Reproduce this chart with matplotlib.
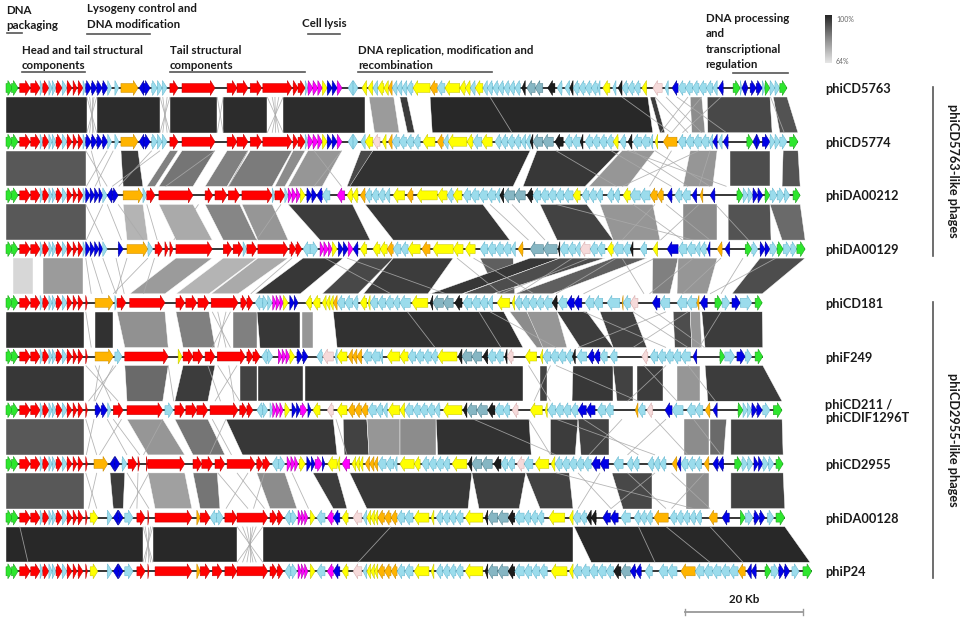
import re
import numpy as np
import matplotlib
matplotlib.use("Agg")
import matplotlib.pyplot as plt
from matplotlib.patches import Polygon
from matplotlib.colors import LinearSegmentedColormap, Normalize

plt.rcParams['font.family'] = ['Lato', 'DejaVu Sans']

# ---------------------------------------------------------------- data
GENOMES = ["phiCD5763", "phiCD5774", "phiDA00212", "phiDA00129", "phiCD181",
           "phiF249", "phiCD211 /\nphiCDIF1296T", "phiCD2955", "phiDA00128", "phiP24"]
GROUPS = [("phiCD5763-like phages", 0, 3), ("phiCD2955-like phages", 4, 9)]
ID_RANGE = (64, 100)
SCALE_KB = 20

# gene tokens: start-end, colour class, strand (positions on the reading grid)
LEFT_CORE = ("0-1.2G+ 1.0-2.2G+ 2.5-4.4R+ 4.5-6.2R+ 6.2-6.7c+ 6.7-7.8R+ 7.8-8.4c+ 8.4-9.1c+ "
             "9.1-10.2R+ 10.2-11.1c+ 11.1-12.0R+ 12.2-12.9R+ 13.1-14.0R+ ")
LEFT_G1 = LEFT_CORE + "14.0-14.5c+ "
LEFT_G2 = LEFT_CORE + "14.5-14.8R+ "

STRUCT_A = ("14.5-15.5B+ 15.5-16.5B+ 16.5-17.5B+ 17.5-18.5B+ 18.5-19.2c+ 19.8-20.5c+ 20.9-24.0O+ "
            "24.2-25.1B- 25.1-26.2B+ 26.5-27.5c+ 27.5-28.4c+ 28.4-29.3c+ 29.8-31.3R+ 32.0-38.0R+ "
            "40.2-42.0R+ 42.0-44.0R+ 44.4-46.5R+ 46.7-52.0R+ 52.2-53.1R+ 53.1-54.4R+ 54.4-54.9c+ "
            "54.9-55.8M+ 55.8-56.7M+ 56.7-57.5M+ 57.5-58.4Y+ 58.4-59.3B+ 59.3-60.2B+ 60.2-61.1M+ "
            "62.2-63.1c- 63.1-64.0c+ ")

REP_1 = ("64.7-65.6Y- 65.8-66.7Y- 66.7-67.6c- 67.6-68.7Y- 68.7-69.5Y- 69.5-70.2O- 70.2-71.1c- "
         "71.1-72.0c- 72.0-72.9c- 72.9-74.0c- 74.0-77.1Y- 77.1-78.4O- 78.4-79.8c- 79.8-82.5Y- "
         "82.5-83.5Y- 83.5-84.4Y- 84.4-85.3c- 85.3-86.7Y- 86.7-87.5c- 87.5-88.5c- 88.5-89.5c- "
         "89.5-90.5c- 90.5-91.5c- 91.5-92.5c- 92.5-93.5c- 93.8-94.4K- 94.7-96.2T- 96.2-97.6T- "
         "98.5-99.8K- 100.2-101.1c- 101.6-102.5c- 102.5-103.1K- 103.1-104.2c- 104.2-105.3c- "
         "105.3-106.4c- 106.4-107.5c- 107.5-108.0c- 108.5-109.8Y- 110.3-110.9c- 111.3-112.0K- "
         "112.0-113.1c- 113.1-114.2c- 114.2-115.3c- 115.6-116.5Y- 117.6-119.3P- 119.8-120.4c- "
         "121.1-122.2B- 122.2-123.5c- 123.5-124.8c- 124.8-126.0c- 126.0-127.3c- 127.3-128.5c- "
         "128.5-129.3c- 129.5-130.4B- 132.2-133.5G+ 133.5-133.8c+ 133.8-134.4B- 134.4-134.9B+ "
         "135.3-136.4B+ 136.4-137.5B+ 137.5-138.0c+ 138.0-138.9G+ 138.9-139.8c+ 139.8-140.7c+ "
         "140.7-142.0G+")

REP_2 = ("64.5-65.3c- 65.3-66.7Y- 66.7-68.0P- 68.4-69.1Y- 69.5-70.2O- 70.2-71.5c- 71.5-72.8c- "
         "72.8-74.1c- 74.1-75.3c- 75.8-78.0Y- 78.4-79.5O- 79.5-80.4c- 80.4-83.8Y- 83.8-84.9Y- "
         "84.9-86.5c- 86.5-88.4Y- 88.9-90.0c- 90.0-91.2c- 91.2-92.4c- 92.4-93.6c- 93.6-94.5c- "
         "94.5-95.3c- 95.3-95.8K- 95.8-97.6T- 97.6-99.5T- 99.8-101.3K- 101.6-102.9c- 102.9-104.4c- "
         "104.4-104.9K- 105.3-106.6c- 106.6-107.9c- 107.9-109.2c- 109.2-110.4c- 110.4-111.3Y- "
         "111.6-112.7c- 113.1-113.8K- 114.0-115.5c- 115.5-117.0c- 117.0-117.6c- 118.0-118.5Y- "
         "119.5-122.0O- 122.2-123.6c- 123.6-125.0c- 125.0-126.4c- 126.4-127.8c- 127.8-128.5c- "
         "128.5-129.3B- 129.5-130.2c- 130.4-131.3B- 134.7-135.8G+ 135.8-136.5B- 136.5-137.1B+ "
         "137.5-138.9B+ 138.9-139.8c+ 139.8-140.7c+ 140.7-142.0c+ 142.5-144.0G+")

GENES_3 = ("14.5-15.3B+ 15.3-16.1B+ 16.1-16.9B+ 16.9-17.6B+ 17.6-18.4c+ 18.4-19.3B- 19.3-20.4B+ "
           "21.3-24.9O+ 24.9-25.6c+ 25.6-27.1R+ 27.8-34.0R+ 36.2-37.6R+ 38.0-40.2R+ 40.4-42.5R+ "
           "42.9-48.4R+ 48.4-48.9c+ 48.9-50.7R+ 50.7-51.3c+ 51.3-52.0M+ 52.0-52.8M+ 52.8-53.5M+ "
           "53.5-54.4Y+ 54.7-55.6B+ 55.6-56.5B+ 56.5-57.5B- 57.5-58.9c- 60.2-61.6M- 62.0-63.0Y- "
           "63.0-64.0Y- 64.4-65.3O- 65.3-66.5c- 66.5-67.7c- 67.7-68.9c- 68.9-69.8c- 70.4-72.5Y- "
           "72.9-74.0O- 74.7-78.4Y- 78.5-80.2Y- 80.2-81.3c- 81.3-82.9Y- 83.1-84.5c- 84.5-86.0c- "
           "86.0-87.5c- 87.5-89.0c- 89.0-89.8c- 89.8-90.5K- 90.5-92.5T- 92.5-94.4T- 94.7-95.8K- "
           "95.8-97.2c- 97.2-98.6c- 98.6-100.0c- 100.0-101.4c- 101.4-103.1c- 103.1-104.4Y- "
           "104.7-106.0c- 106.0-107.3c- 107.3-108.5c- 109.3-110.5c- 110.5-111.6c- 112.2-113.5Y- "
           "113.5-115.3c- 115.3-117.1c- 117.1-118.4O- 118.4-119.5O- 120.2-121.1B- 121.6-122.9c- "
           "122.9-124.4c- 124.7-125.6B- 126.2-126.7O- 128.0-128.9B- 132.9-134.0G+ 134.0-134.9c+ "
           "134.9-135.8c+ 135.8-136.7B+ 136.7-137.6B+ 138.0-138.9G+ 138.9-140.2c+ 140.2-141.5c+ "
           "141.5-142.5c+ 143.1-144.4G+")

GENES_4 = ("14.5-15.3B+ 15.3-16.1B+ 16.1-16.9B+ 16.9-17.6B+ 17.6-18.4c+ 20.4-21.3B+ 22.0-25.8O+ "
           "25.8-26.7c+ 27.1-28.5R+ 28.9-29.5R+ 29.8-30.4R+ 30.9-37.5R+ 39.5-41.1R+ 41.3-43.1R+ "
           "43.1-43.8c+ 43.8-45.6R+ 45.8-51.3R+ 51.6-52.7R+ 52.7-53.8R+ 54.0-55.3c- 55.3-56.7c+ "
           "57.1-57.8M+ 57.8-58.6M+ 58.6-59.3M+ 59.3-60.2Y+ 60.4-61.3B+ 61.3-62.2B+ 62.2-63.1M+ "
           "63.1-64.0B- 64.4-65.6Y- 66.7-68.0Y- 68.0-69.3Y- 69.3-70.4O- 70.4-71.8c- 71.8-73.1c- "
           "73.1-75.3Y- 75.6-77.1O- 77.6-81.3Y- 81.3-83.1Y- 83.5-85.3Y- 86.2-87.6c- 87.6-89.0c- "
           "89.0-90.4c- 90.4-91.8c- 91.8-92.6c- 93.1-94.0O- 95.3-97.7T- 97.7-100.2T- 100.4-100.7K- "
           "100.7-102.2c- 102.2-103.5c- 103.5-104.4c- 104.4-106.2P- 106.2-107.5c- 107.5-108.9c- "
           "109.3-110.4Y- 110.4-112.2c- 112.2-113.5c- 113.5-114.0K- 115.3-116.5c- 117.6-118.5Y- "
           "120.2-122.2B- 122.2-123.8c- 123.8-125.3c- 125.3-126.2c- 126.2-127.3c- 127.5-128.0B- "
           "129.3-130.2O- 130.7-131.6B- 134.4-135.6G+ 135.6-136.7c+ 137.1-138.0B+ 138.0-138.9B+ "
           "138.9-140.2c+ 140.2-141.3G+ 141.3-142.7c+ 142.7-143.8c+ 143.8-145.3G+")

GENES_5 = ("16.2-19.5O+ 19.8-20.2c+ 20.2-21.8R+ 22.5-28.9R+ 30.9-32.5R+ 32.7-34.7R+ 34.9-36.9R+ "
           "37.3-42.2R+ 42.7-43.8R+ 43.8-44.9R+ 45.3-46.7c- 46.7-47.6c+ 47.6-48.4c+ 48.5-49.1M+ "
           "49.1-49.8M+ 49.8-50.4M+ 50.4-51.3Y+ 51.6-52.4B+ 52.4-53.1B+ 54.5-55.6Y- 55.8-57.1Y- "
           "57.5-58.2Y- 58.2-58.9Y- 58.9-59.5Y- 59.5-60.2O- 60.2-61.6c- 61.6-63.0c- 63.0-64.0c- "
           "64.4-65.6Y- 65.8-66.2Y- 66.2-67.6c- 67.6-69.0c- 69.0-70.4c- 70.4-71.6c- 71.6-73.5c- "
           "73.8-76.7Y- 77.1-77.6K- 77.6-79.5T- 79.5-81.3T- 81.6-82.9K- 83.1-84.7c- 84.7-86.2c- "
           "86.2-87.6c- 87.6-88.5c- 89.3-91.6Y- 92.0-92.5Y- 92.5-93.8c- 93.8-95.1c- 95.1-96.4c- "
           "96.4-97.7c- 97.7-99.3c- 99.3-100.2K- 100.4-102.0c- 102.0-103.3B- 103.3-104.7B- "
           "105.3-106.9c- 106.9-108.5c- 109.3-111.6c- 112.0-112.2O- 112.2-113.5c- 113.5-114.9P- "
           "117.5-118.9B- 118.9-120.7c- 122.0-123.8c- 123.8-125.6c- 125.6-126.0O- 126.2-127.5B- "
           "128.9-130.2G+ 130.2-131.6c+ 132.0-133.5B+ 133.5-135.6c+ 136.2-137.5G+")

GENES_6 = ("16.2-19.5O+ 19.8-21.1c+ 21.6-29.5R+ 31.3-32.0Y+ 32.2-34.0R+ 34.0-35.8R+ 36.2-38.0R+ "
           "38.4-43.5R+ 43.8-44.9R+ 44.9-46.2R+ 46.5-47.5c- 47.5-48.5c+ 49.5-50.2M+ 50.2-50.9M+ "
           "50.9-51.6M+ 51.6-52.5Y+ 52.9-53.9B+ 53.9-54.9B+ 56.5-57.5c- 57.6-59.5P- 59.8-60.2c- "
           "60.2-62.0Y- 62.2-63.0O- 63.0-63.8O- 63.8-64.7O- 64.9-66.4c- 66.4-68.0c- 68.0-68.5c- "
           "69.3-71.6Y- 71.6-73.1Y- 73.1-74.5c- 74.5-75.9c- 75.9-77.3c- 77.3-78.4c- 78.5-82.0Y- "
           "82.2-82.9K- 82.9-84.7T- 84.7-86.5T- 86.7-87.6K- 87.6-89.0c- 89.0-90.4c- 90.7-91.1K- "
           "91.1-92.2P- 94.4-96.5Y- 97.1-97.6Y- 97.6-99.0c- 99.0-100.4c- 100.4-101.8c- 101.8-103.0c- "
           "103.0-103.5K- 103.8-105.6c- 105.8-106.9B- 106.9-108.0B- 108.0-109.3c- 109.8-111.1c- "
           "115.6-116.7P- 117.1-118.5c- 118.5-119.9c- 119.9-121.3c- 121.3-122.7c- 122.7-124.4c- "
           "124.9-125.6B- 129.8-130.7G+ 130.7-132.5c+ 132.9-134.4B+ 134.4-135.6c+ 136.2-137.6G+")

GENES_7 = ("16.2-17.3B+ 17.3-18.4B+ 18.5-19.1c+ 19.5-21.3R+ 22.0-28.5R+ 28.9-30.4c+ 30.7-32.5R+ "
           "32.7-34.7R+ 34.7-36.7R+ 37.1-42.2R+ 42.5-43.8R+ 43.8-44.9R+ 45.6-46.7c- 46.7-47.6c+ "
           "48.0-48.5c+ 48.5-49.1M+ 49.1-49.8M+ 49.8-50.4M+ 50.7-51.6Y+ 52.0-52.8B+ 52.8-53.5B+ "
           "53.5-54.7M+ 54.9-55.5B+ 55.8-57.1Y- 58.4-59.5P- 60.2-62.0Y- 62.2-63.4O- 63.4-64.6O- "
           "64.6-65.8O- 65.8-67.3c- 67.3-68.5c- 68.5-69.3c- 69.5-71.6Y- 71.6-72.5Y- 72.5-74.0c- "
           "74.0-75.3c- 75.3-76.6c- 76.6-77.9c- 77.9-78.9c- 79.5-82.9Y- 83.1-83.8K- 83.8-85.6T- "
           "85.6-87.5T- 87.6-88.9K- 88.9-90.4c- 90.4-91.6c- 92.0-93.1P- 95.3-97.5Y- 98.0-98.4Y- "
           "98.5-99.9c- 99.9-101.3c- 101.3-102.7c- 102.7-104.0c- 104.0-105.5B- 105.5-107.1B- "
           "107.5-109.0c- 109.0-110.4c- 114.4-114.9O- 114.9-116.2c- 116.5-117.6P- 119.8-121.1B- "
           "121.1-123.1c- 123.8-125.3c- 125.3-126.7c- 127.1-128.0O- 128.5-129.3B- 133.1-134.0G+ "
           "134.0-134.8c+ 134.8-135.6c+ 135.6-136.5B+ 136.5-137.5B+ 137.6-138.9c+ 139.5-141.1G+")

GENES_8 = ("16.0-18.5O+ 18.9-19.8B- 19.8-20.7B+ 21.1-22.0c+ 22.2-23.8R+ 24.0-24.3R+ 25.5-25.8R+ "
           "25.8-32.5R+ 34.0-35.6R+ 35.6-37.6R+ 38.0-39.8R+ 40.2-45.3R+ 45.6-46.7R+ 46.7-48.0R+ "
           "48.4-49.5c- 49.5-50.7c+ 51.1-51.8M+ 51.8-52.5M+ 52.5-53.1M+ 53.3-54.4Y+ 54.7-55.5B+ "
           "55.5-56.2B+ 56.2-57.5M+ 57.5-58.0B+ 58.5-60.2Y- 60.2-60.7Y- 61.1-62.5M- 62.9-63.6Y- "
           "63.6-64.3Y- 64.3-64.9Y- 65.3-66.1O- 66.1-66.9O- 66.9-67.6O- 67.6-69.1c- 69.1-70.5c- "
           "70.5-71.1c- 71.6-74.2Y- 74.2-75.3Y- 75.6-76.9c- 76.9-78.2c- 78.2-79.5c- 79.5-80.7c- "
           "81.1-83.8Y- 84.0-84.7K- 84.7-86.5T- 86.5-88.4T- 88.7-90.0K- 90.0-91.2c- 91.2-92.5c- "
           "92.9-94.2P- 94.2-95.8c- 96.2-98.7Y- 99.1-99.8Y- 99.8-101.1c- 101.1-102.4c- 102.4-103.7c- "
           "103.7-105.0c- 105.0-106.4c- 106.5-108.0B- 108.0-109.6B- 110.5-112.2c- 112.9-114.0c- "
           "114.0-115.1c- 116.7-117.8c- 117.8-118.9c- 118.9-120.0c- 121.1-122.0O- 122.0-122.7B- "
           "122.7-124.0c- 124.0-125.3c- 125.3-126.5c- 126.9-127.8O- 128.5-129.5B- 129.5-130.5B- "
           "132.5-133.8G+ 133.8-134.8c+ 134.8-135.8c+ 136.0-136.8B+ 136.8-137.6B+ 137.6-138.6c+ "
           "138.6-139.6c+ 140.0-141.3G+")

STRUCT_9A = ("15.3-16.7Y+ 18.4-19.3c+ 19.5-20.4B- 20.4-21.3B+ 21.6-23.1c+ 23.8-25.3R+ 25.8-26.0R+ "
             "27.1-33.8R+ 34.7-35.3O+ 35.3-37.1R+ ")
STRUCT_9B = ("39.8-42.0R+ 42.0-47.6R+ 48.0-49.3R+ 49.3-50.4R+ 50.7-51.8c- 51.8-52.9c+ 53.1-53.7M+ "
             "53.7-54.3M+ 54.3-54.9M+ 55.3-56.2Y+ 56.5-58.0c- 58.4-59.5M- 59.5-60.7B- 61.1-62.2Y- "
             "63.1-64.7P- 64.9-65.6c- 65.6-66.3Y- 66.3-67.0Y- 67.0-67.6Y- 67.6-68.8O- 68.8-70.0O- "
             "70.0-71.1O- 71.1-72.5c- 72.5-74.0c- 74.2-76.9Y- 77.3-77.8Y- 78.2-79.4c- 79.4-80.6c- "
             "80.6-81.8c- 81.8-83.1c- 83.5-86.7Y- 87.1-87.6K- 87.6-89.4T- 89.4-91.3T- 91.3-92.5K- "
             "92.5-94.2c- ")
REP_9 = ("94.2-95.4c- 95.4-96.6c- 96.6-97.8c- 98.7-101.6Y- 102.4-103.1Y- 103.1-104.4c- "
         "104.4-105.6c- 105.6-106.4K- 106.4-107.3K- 108.5-109.9B- 109.9-111.3B- 111.8-113.5c- "
         "114.2-115.3c- 115.3-116.4c- 116.4-117.5c- 117.8-120.4O- 120.7-121.9c- 121.9-123.1c- "
         "123.1-124.3c- 124.3-125.4c- 125.4-126.5c- 127.8-129.3O- 130.2-131.5B- 133.5-134.4G+ "
         "134.4-135.8c+ 136.0-137.0B+ 137.0-138.0B+ 138.4-139.6c+ 140.0-141.6G+")
REP_10 = ("94.2-95.6c- 95.6-97.0c- 97.0-98.4c- 99.1-102.0Y- 102.4-103.1Y- 103.1-104.6c- "
          "104.6-106.1c- 106.1-107.6c- 107.6-109.1c- 109.1-110.5c- 110.5-111.8K- 111.8-113.5T- "
          "113.5-114.5B- 114.5-115.5B- 116.2-117.5c- 118.7-120.3c- 120.3-122.0c- 122.7-125.3O- "
          "125.3-126.9c- 126.9-128.4c- 128.4-130.0c- 130.0-131.5c- 131.5-133.1c- 133.1-134.4O- "
          "134.7-135.5B- 135.5-136.4B- 138.0-139.1G+ 139.1-140.5c+ 140.5-141.5B+ 141.5-142.5B+ "
          "142.9-144.2c+ 144.9-146.5G+")

TRACKS = [
    LEFT_G1 + STRUCT_A + REP_1,
    LEFT_G1 + STRUCT_A + REP_2,
    LEFT_G1 + GENES_3,
    LEFT_G1 + GENES_4,
    LEFT_G2 + GENES_5,
    LEFT_G2 + GENES_6,
    LEFT_G2 + GENES_7,
    LEFT_G2 + GENES_8,
    LEFT_G2 + STRUCT_9A + "37.1-38.3c- 38.3-39.5c+ " + STRUCT_9B + REP_9,
    LEFT_G2 + STRUCT_9A + "37.5-39.3R+ " + STRUCT_9B + REP_10,
]

# homology blocks between neighbouring genomes: (top start, top end, bottom start, bottom end, % identity)
BLOCKS_1_2 = [(0, 14.7, 0, 14.7, 99), (16.5, 28.0, 16.5, 28.0, 99), (29.8, 38.4, 29.8, 38.4, 99),
              (39.5, 47.5, 39.5, 47.5, 99), (50.4, 65.3, 50.4, 65.3, 99), (66.0, 70.5, 67.0, 71.5, 79),
              (71.6, 72.9, 73.0, 74.3, 96), (77.1, 116.7, 77.5, 117.6, 99.5), (117.1, 118.0, 118.9, 119.8, 96),
              (124.4, 126.5, 124.7, 127.1, 82), (127.5, 138.9, 127.6, 139.3, 94), (139.5, 142.0, 140.7, 144.0, 92)]
BLOCKS_2_3 = [(0, 14.5, 0, 14.5, 91), (20.9, 24.0, 21.3, 24.9, 96), (29.8, 31.3, 25.6, 27.1, 84),
              (32.0, 38.0, 27.8, 34.0, 86), (40.2, 44.0, 36.2, 40.2, 84), (44.4, 52.0, 40.4, 48.4, 85),
              (52.2, 54.4, 48.9, 50.7, 82), (54.9, 61.1, 51.3, 57.5, 80), (64.5, 66.7, 62.0, 64.0, 94),
              (66.7, 95.3, 62.5, 92.2, 98), (96.5, 111.6, 94.0, 105.3, 97), (112.0, 118.0, 106.0, 113.0, 80),
              (124.4, 129.3, 123.1, 128.5, 80), (131.6, 138.9, 131.6, 138.9, 93), (141.3, 144.0, 141.1, 144.4, 92)]
BLOCKS_3_4 = [(0, 14.5, 0, 14.5, 91), (21.3, 24.9, 22.0, 25.8, 74), (27.8, 34.0, 30.9, 37.5, 76),
              (36.2, 42.5, 39.5, 45.6, 83), (42.9, 48.4, 45.8, 51.3, 80), (51.3, 63.0, 57.1, 66.2, 96),
              (65.3, 86.7, 70.4, 91.6, 97), (97.1, 105.6, 100.2, 110.4, 95), (108.0, 117.6, 110.4, 118.9, 80),
              (123.1, 129.3, 123.1, 129.3, 82), (131.3, 138.9, 131.3, 139.1, 92), (138.9, 144.4, 141.1, 145.3, 88)]
BLOCKS_4_5 = [(1.3, 4.9, 1.3, 4.9, 67), (6.7, 14.0, 6.7, 14.0, 79), (30.9, 37.5, 22.5, 28.9, 79),
              (39.5, 45.6, 30.9, 36.9, 74), (45.8, 51.3, 37.3, 42.2, 76), (54.0, 61.3, 45.3, 53.5, 97),
              (64.4, 70.4, 57.5, 64.0, 94), (70.4, 81.3, 65.0, 76.7, 96), (86.2, 92.2, 89.3, 92.5, 90),
              (95.3, 100.7, 77.1, 82.9, 97), (100.7, 108.9, 83.1, 88.5, 93), (110.4, 116.5, 92.5, 99.3, 90),
              (117.6, 122.2, 117.5, 120.7, 84), (122.2, 129.3, 122.0, 127.5, 80), (137.1, 145.3, 132.0, 137.5, 93)]
BLOCKS_5_6 = [(0, 14.2, 0, 14.2, 98), (16.2, 19.5, 16.2, 19.5, 98), (20.2, 28.9, 21.6, 29.5, 81),
              (30.9, 36.9, 32.2, 38.0, 84), (41.3, 45.6, 41.3, 45.6, 84), (45.6, 53.5, 46.2, 53.5, 97),
              (53.8, 55.8, 53.8, 55.8, 80), (59.5, 90.5, 60.2, 94.0, 98), (91.6, 94.7, 96.5, 98.4, 82),
              (94.7, 100.2, 97.6, 102.0, 80), (100.2, 105.6, 104.4, 110.4, 96), (108.0, 114.0, 110.4, 116.5, 95),
              (121.3, 124.4, 121.6, 124.7, 93), (124.4, 126.2, 124.7, 126.5, 80), (126.5, 137.5, 127.1, 137.6, 96)]
BLOCKS_6_7 = [(0, 14.2, 0, 14.2, 97), (21.6, 29.5, 22.0, 28.5, 88), (32.2, 38.0, 30.7, 36.7, 96),
              (42.5, 45.6, 42.5, 45.6, 95), (45.8, 54.0, 45.8, 54.0, 97), (54.4, 94.0, 54.4, 94.0, 98),
              (97.1, 98.4, 97.1, 98.4, 95), (103.1, 110.4, 102.9, 110.4, 97), (110.4, 114.0, 111.0, 114.0, 95),
              (114.7, 119.5, 114.7, 119.5, 96), (122.0, 126.2, 122.0, 126.2, 80), (127.1, 137.6, 127.6, 141.1, 96)]
BLOCKS_7_8 = [(0, 14.2, 0, 14.2, 91), (22.0, 28.5, 25.8, 32.5, 80), (30.7, 36.7, 34.0, 39.8, 86),
              (40.0, 59.5, 43.0, 60.2, 97), (61.3, 65.6, 61.5, 66.0, 95), (65.6, 71.6, 66.0, 71.6, 80),
              (71.6, 78.2, 71.6, 78.2, 82), (78.2, 95.1, 78.5, 95.5, 98), (99.0, 104.0, 99.0, 103.5, 96),
              (104.0, 109.6, 104.5, 109.6, 95), (123.3, 127.8, 123.3, 127.8, 82), (128.0, 131.0, 128.0, 130.5, 88),
              (131.8, 141.1, 131.8, 141.3, 95)]
BLOCKS_8_9 = [(0, 14.2, 0, 14.2, 91), (18.9, 21.6, 19.5, 21.3, 96), (25.8, 32.5, 27.1, 33.8, 78),
              (34.0, 38.4, 35.3, 38.9, 86), (45.6, 50.7, 48.0, 52.9, 82), (55.8, 60.2, 59.5, 62.0, 96),
              (62.5, 84.7, 65.6, 84.0, 97), (84.7, 94.5, 86.0, 93.3, 96), (94.5, 102.4, 97.1, 103.1, 95),
              (110.2, 117.5, 112.2, 117.5, 94), (123.6, 127.8, 123.6, 127.8, 82), (131.8, 141.3, 131.8, 141.6, 95)]
BLOCKS_9_10 = [(0, 24.9, 0, 24.9, 99.5), (26.7, 42.0, 26.7, 42.0, 99.5), (46.7, 103.1, 46.7, 103.1, 99.5),
               (103.3, 141.6, 106.4, 146.2, 99.5)]
BLOCKS = [BLOCKS_1_2, BLOCKS_2_3, BLOCKS_3_4, BLOCKS_4_5, BLOCKS_5_6,
          BLOCKS_6_7, BLOCKS_7_8, BLOCKS_8_9, BLOCKS_9_10]

# short scattered matches drawn as thin links: (top position, bottom position)
LINKS = [
    [(14.7, 16.5), (16.5, 14.7), (15.2, 16.0), (16.0, 15.2), (15.6, 15.6), (28.0, 29.8), (29.8, 28.0),
     (28.5, 29.3), (29.3, 28.5), (38.4, 39.5), (39.5, 38.4), (47.5, 50.4), (50.4, 47.5), (48.4, 49.6),
     (49.6, 48.4), (48.9, 49.0), (88, 92), (118, 124), (120, 126.5), (124, 119), (126.5, 121),
     (122, 131), (130, 123), (112, 121), (139, 141.5)],
    [(14.5, 18.4), (15.5, 17.2), (18.4, 14.6), (19.5, 16.2), (26.5, 20.5), (28.0, 19.3), (38, 29),
     (44, 40.5), (56, 61), (61, 56), (100, 111), (114, 124), (121, 117), (118, 128), (126, 112),
     (110, 121), (128, 126), (113, 131)],
    [(14.5, 17.6), (17.6, 14.6), (18.4, 21), (20.4, 25), (25.6, 27.5), (35, 30.5), (50, 45.5),
     (88, 95), (92, 98), (114, 123), (118, 112), (120, 128), (126, 119), (129, 135), (100, 125)],
    [(14.5, 15.5), (15.5, 17.5), (17.6, 20.0), (20, 21.5), (22, 20), (25.8, 19.5), (27, 25),
     (52, 44.5), (58, 70), (62, 80), (82, 90), (85, 96), (103, 93), (106, 90), (111, 100),
     (118, 105), (112, 116), (125, 117), (130, 123), (134, 130), (140, 128)],
    [(14.5, 15.5), (37.5, 40.8), (40.8, 37.5), (38.5, 40.0), (40.0, 38.5), (73, 78), (86, 90),
     (88, 100), (105, 120), (114, 124), (118, 127), (124, 114), (120, 104), (130, 126)],
    [(14.5, 20.4), (17, 16), (20, 15), (16.2, 19.1), (19.5, 16.2), (29.5, 30.5), (36.7, 39),
     (38.5, 42.5), (42.0, 38.0), (40.5, 41.5), (95, 99), (99, 96), (116, 122), (120, 113),
     (124, 129), (100, 115)],
    [(14.5, 16.5), (16, 14.6), (18.4, 22), (19.5, 24.3), (21, 17), (28.5, 25), (37.5, 41), (40, 37),
     (60, 62), (85, 100), (95, 99), (105, 115), (112, 106), (118, 124), (120, 113), (125, 130), (100, 118)],
    [(14.5, 16.5), (16.5, 15), (22.0, 26), (24.0, 23.8), (26, 22.5), (38.5, 44), (42, 47), (44, 40),
     (47, 45), (52, 55), (104, 110), (108, 104), (113, 120), (118, 110), (121, 128), (127, 121), (100, 125)],
    [(24.9, 26.7), (26.7, 24.9), (25.3, 26.3), (26.3, 25.3), (25.8, 25.8), (42.0, 46.7), (46.7, 42.0),
     (43, 45.5), (45.5, 43), (43.8, 44.9), (44.9, 43.8), (44.3, 44.3), (2.5, 4.0), (70, 64),
     (115, 118), (120, 128), (128, 134)],
]
LINK_IDENTITY = 76

MODULES = [
    (["DNA", "packaging"], 0.0, 0.2, 2.7, 13.5, 33.5),
    (["Lysogeny control and", "DNA modification"], 13.7, 13.7, 24.4, 12.5, 34.5),
    (["Cell lysis"], 50.2, 51.2, 56.6, 27.0, 34.0),
    (["Head and tail structural", "components"], 2.7, 2.7, 13.4, 53.5, 72.0),
    (["Tail structural", "components"], 27.8, 27.8, 50.7, 53.5, 72.0),
    (["DNA replication, modification and", "recombination"], 59.7, 59.7, 82.4, 53.5, 72.0),
    (["DNA processing", "and", "transcriptional", "regulation"], 118.6, 123.2, 132.5, 21.8, 73.0),
]

GENE_COLORS = {'G': ('#2ee62e', '#169c16'), 'R': ('#ff0000', '#c00000'), 'c': ('#9bdcec', '#62b6cf'),
               'B': ('#0000e6', '#00009a'), 'O': ('#ffb400', '#c88a00'), 'Y': ('#ffff00', '#c4c400'),
               'M': ('#ff00ff', '#aa00aa'), 'K': ('#1c1c1c', '#000000'), 'P': ('#f6dada', '#d4aaaa'),
               'T': ('#86b6c3', '#4a7d8c')}

# ---------------------------------------------------------------- layout
W, H = 964, 619
PX_PER_KB = 5.9            # 20 Kb bar spans 118 px
GRID_TO_KB = 5.5 / PX_PER_KB  # positions above were read on a 5.5 px grid
X0, Y0, PITCH = 6, 88, 53.7

fig = plt.figure(figsize=(W / 100, H / 100), dpi=100)
ax = fig.add_axes([0, 0, 1, 1])
ax.set_xlim(-X0 / PX_PER_KB, (W - X0) / PX_PER_KB)
ax.set_ylim((H - Y0) / PITCH, -Y0 / PITCH)
ax.axis('off')


def xpx(p):
    return (p - X0) / PX_PER_KB


def ypx(p):
    return (p - Y0) / PITCH


cmap = LinearSegmentedColormap.from_list('ident', ['#e6e6e6', '#8c8c8c', '#262626'])
norm = Normalize(*ID_RANGE)

GAP = 9 / PITCH
HH, BH, HEAD = 7.5 / PITCH, 4.5 / PITCH, 0.8

tok = re.compile(r'([\d.]+)-([\d.]+)([A-Za-z])([+-])')
tracks = []
for s in TRACKS:
    genes = [(float(a) * GRID_TO_KB, float(b) * GRID_TO_KB, c, d) for a, b, c, d in tok.findall(s)]
    tracks.append(genes)

# homology blocks
for i, blocks in enumerate(BLOCKS):
    yt, yb = i + GAP, i + 1 - GAP
    for ts, te, bs, be, ident in blocks:
        poly = Polygon([(ts * GRID_TO_KB, yt), (te * GRID_TO_KB, yt), (be * GRID_TO_KB, yb), (bs * GRID_TO_KB, yb)],
                       closed=True, facecolor=cmap(norm(ident)), edgecolor='white', lw=0.3, zorder=1)
        ax.add_patch(poly)
    for t, b in LINKS[i]:
        ax.plot([t * GRID_TO_KB, b * GRID_TO_KB], [yt, yb], color=cmap(norm(LINK_IDENTITY)),
                lw=0.6, alpha=0.85, zorder=2, solid_capstyle='butt')

# genomes
for i, genes in enumerate(tracks):
    end = max(g[1] for g in genes)
    ax.plot([0, end], [i, i], color='black', lw=1.1, zorder=3, solid_capstyle='butt')
    for s, e, c, d in genes:
        fc, ec = GENE_COLORS[c]
        L = e - s
        h = min(HEAD, L)
        if d == '+':
            if L > HEAD:
                pts = [(s, i - BH), (e - h, i - BH), (e - h, i - HH), (e, i), (e - h, i + HH), (e - h, i + BH), (s, i + BH)]
            else:
                pts = [(s, i - HH), (e, i), (s, i + HH)]
        else:
            if L > HEAD:
                pts = [(e, i - BH), (s + h, i - BH), (s + h, i - HH), (s, i), (s + h, i + HH), (s + h, i + BH), (e, i + BH)]
            else:
                pts = [(e, i - HH), (s, i), (e, i + HH)]
        ax.add_patch(Polygon(pts, closed=True, facecolor=fc, edgecolor=ec, lw=0.35, zorder=4))

# genome names
for i, name in enumerate(GENOMES):
    ax.text(xpx(825), i + 0.02, name, ha='left', va='center', fontsize=9.2, fontweight='bold',
            color='#1a1a1a', linespacing=1.15)

# group brackets
for label, a, b in GROUPS:
    ax.plot([xpx(933), xpx(933)], [a - 0.02, b + 0.13], color='#555555', lw=1.2)
    ax.text(xpx(953), (a + b) / 2 + 0.05, label, rotation=270, ha='center', va='center',
            fontsize=9.2, fontweight='bold', color='#1a1a1a')

# functional modules
for lines, xt, u0, u1, base, uy in MODULES:
    for k, line in enumerate(lines):
        ax.text(xt * 1.0, ypx(base + k * 15.5), line, ha='left', va='baseline', fontsize=8.3,
                fontweight='bold', color='#1a1a1a')
    ax.plot([u0, u1], [ypx(uy), ypx(uy)], color='#555555', lw=1.2)

# scale bar
sb0 = xpx(685)
ax.plot([sb0, sb0 + SCALE_KB], [ypx(612), ypx(612)], color='#999999', lw=1.3)
for xx in (sb0, sb0 + SCALE_KB):
    ax.plot([xx, xx], [ypx(609), ypx(615)], color='#999999', lw=1.0)
ax.text(sb0 + SCALE_KB / 2, ypx(603), f"{SCALE_KB} Kb", ha='center', va='baseline', fontsize=8.3,
        fontweight='bold', color='#1a1a1a')

# identity colour bar
cax = fig.add_axes([825 / W, 1 - 63 / H, 7 / W, 48 / H])
grad = np.linspace(ID_RANGE[1], ID_RANGE[0], 100).reshape(-1, 1)
cax.imshow(grad, aspect='auto', cmap=cmap, norm=norm)
cax.set_axis_off()
ax.text(xpx(836), ypx(19), f"{ID_RANGE[1]}%", ha='left', va='center', fontsize=5, color='#666666')
ax.text(xpx(836), ypx(61), f"{ID_RANGE[0]}%", ha='left', va='center', fontsize=5, color='#666666')

fig.savefig('out.png', dpi=100)
